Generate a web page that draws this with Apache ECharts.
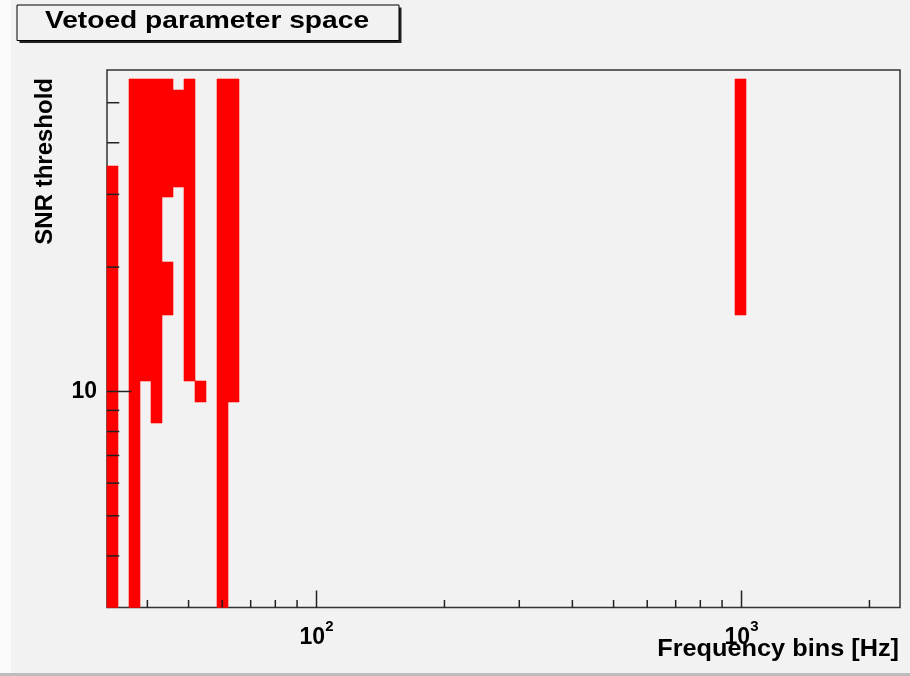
<!DOCTYPE html>
<html>
<head>
<meta charset="utf-8">
<script src="https://cdn.jsdelivr.net/npm/echarts@6/dist/echarts.min.js"></script>
<style>
html,body{margin:0;padding:0;background:#f2f2f2;}
#c{width:910px;height:676px;}
</style>
</head>
<body>
<div id="c"></div>
<script>
// Vetoed cells: frequency bin edges [Hz] and SNR threshold range
const freqLow  = [32.14, 36.22, 38.45, 40.80, 43.32, 43.32, 45.97, 48.80, 51.81, 58.37, 61.96, 963.2];
const freqHigh = [34.12, 38.45, 40.80, 43.32, 45.97, 45.97, 48.80, 51.81, 54.99, 61.96, 65.76, 1022.4];
const snrLow   = [3, 3, 10.6, 8.37, 29.6, 15.3, 31.2, 10.6, 9.43, 3, 9.43, 15.3];
const snrHigh  = [35.2, 57.2, 57.2, 57.2, 57.2, 20.6, 53.8, 57.2, 10.6, 57.2, 57.2, 57.2];

// Axis ranges and tick values
const xRange = [32.14, 2360];
const yRange = [3, 60];
const xMajorTicks = [100, 1000];
const xMinorTicks = [40, 50, 60, 70, 80, 90, 200, 300, 400, 500, 600, 700, 800, 900, 2000];
const yMajorTicks = [10];
const yMinorTicks = [4, 5, 6, 7, 8, 9, 20, 30, 40, 50];

const titleText = 'Vetoed parameter space';
const xTitle = 'Frequency bins [Hz]';
const yTitle = 'SNR threshold';

const chart = echarts.init(document.getElementById('c'), null, {renderer: 'canvas'});

const cells = freqLow.map((f, i) => [f, freqHigh[i], snrLow[i], snrHigh[i]]);
const xTickData = xMajorTicks.map(v => [v, 10, 1]).concat(xMinorTicks.map(v => [v, 10, 0]));
const yTickData = yMajorTicks.map(v => [100, v, 1]).concat(yMinorTicks.map(v => [100, v, 0]));

const FONT = '"Liberation Sans", Arial, Helvetica, sans-serif';

function isPow10(v) {
  const l = Math.log10(v);
  return Math.abs(l - Math.round(l)) < 1e-6;
}

const option = {
  animation: false,
  backgroundColor: '#f2f2f2',
  grid: {
    left: 107, top: 70, right: 10, bottom: 68.5,
    show: true, borderColor: '#333', borderWidth: 1.5,
    backgroundColor: 'transparent',
    containLabel: false, outerBoundsMode: 'none'
  },
  xAxis: {
    type: 'log', logBase: 10, min: xRange[0], max: xRange[1],
    axisLine: {show: false}, axisTick: {show: false},
    splitLine: {show: false}, minorTick: {show: false}, minorSplitLine: {show: false},
    axisLabel: {
      showMinLabel: false, showMaxLabel: false, margin: 12,
      hideOverlap: false,
      formatter: v => isPow10(v) ? '{b|10}{s|' + Math.round(Math.log10(v)) + '}' : '',
      rich: {
        b: {fontSize: 23, fontWeight: 'bold', fontFamily: FONT, color: '#000', lineHeight: 30, verticalAlign: 'bottom'},
        s: {fontSize: 15, fontWeight: 'bold', fontFamily: FONT, color: '#000', lineHeight: 11, verticalAlign: 'top'}
      }
    }
  },
  yAxis: {
    type: 'log', logBase: 10, min: yRange[0], max: yRange[1],
    axisLine: {show: false}, axisTick: {show: false},
    splitLine: {show: false}, minorTick: {show: false}, minorSplitLine: {show: false},
    axisLabel: {
      showMinLabel: false, showMaxLabel: false, margin: 10,
      fontSize: 23, fontWeight: 'bold', fontFamily: FONT, color: '#000',
      formatter: v => isPow10(v) ? String(Math.round(v)) : ''
    }
  },
  graphic: [
    {type: 'rect', silent: true, z: -10, shape: {x: 0, y: 0, width: 11, height: 676}, style: {fill: '#fafafa'}},
    {type: 'rect', silent: true, z: -10, shape: {x: 0, y: 673, width: 910, height: 3}, style: {fill: '#bdbdbd'}},
    {type: 'rect', silent: true, z: 10, shape: {x: 19.5, y: 7.5, width: 382, height: 35.5}, style: {fill: '#222'}},
    {type: 'rect', silent: true, z: 11, shape: {x: 17, y: 5, width: 382, height: 35.5}, style: {fill: '#f2f2f2', stroke: '#000', lineWidth: 1}},
    {type: 'text', silent: true, z: 12, x: 207, y: 21.5, scaleX: 1.15,
      style: {text: titleText, font: 'bold 24.5px ' + FONT, fill: '#000', textAlign: 'center', textVerticalAlign: 'middle'}},
    {type: 'text', silent: true, z: 12, x: 899, y: 650, scaleX: 1.1,
      style: {text: xTitle, font: 'bold 23px ' + FONT, fill: '#000', textAlign: 'right', textVerticalAlign: 'middle'}},
    {type: 'text', silent: true, z: 12, x: 45, y: 78, rotation: Math.PI / 2,
      style: {text: yTitle, font: 'bold 24px ' + FONT, fill: '#000', textAlign: 'right', textVerticalAlign: 'middle'}}
  ],
  series: [
    {
      type: 'custom', name: 'vetoed', data: cells, z: 2,
      encode: {x: [0, 1], y: [2, 3]},
      renderItem: (params, api) => {
        const p1 = api.coord([api.value(0), api.value(3)]);
        const p2 = api.coord([api.value(1), api.value(2)]);
        const cs = params.coordSys;
        const x1 = Math.round(p1[0]), x2 = Math.round(p2[0]);
        const y1 = Math.round(p1[1]), y2 = Math.round(p2[1]);
        const rect = echarts.graphic.clipRectByRect(
          {x: x1, y: y1, width: x2 - x1, height: y2 - y1},
          {x: cs.x, y: cs.y, width: cs.width, height: cs.height});
        return rect ? {type: 'rect', shape: rect, style: {fill: '#ff0000', stroke: '#ff0000', lineWidth: 0.6}} : null;
      }
    },
    {
      type: 'custom', name: 'xticks', data: xTickData, z: 3,
      encode: {x: 0, y: 1},
      renderItem: (params, api) => {
        const x = api.coord([api.value(0), api.value(1)])[0];
        const cs = params.coordSys;
        const yb = cs.y + cs.height;
        const len = api.value(2) === 1 ? 17 : 7.5;
        return {type: 'line', shape: {x1: x, y1: yb, x2: x, y2: yb - len}, style: {stroke: '#222', lineWidth: 1.5}};
      }
    },
    {
      type: 'custom', name: 'yticks', data: yTickData, z: 3,
      encode: {x: 0, y: 1},
      renderItem: (params, api) => {
        const y = api.coord([api.value(0), api.value(1)])[1];
        const cs = params.coordSys;
        const xl = cs.x;
        const len = api.value(2) === 1 ? 24.5 : 12.3;
        return {type: 'line', shape: {x1: xl, y1: y, x2: xl + len, y2: y}, style: {stroke: '#222', lineWidth: 1.5}};
      }
    }
  ]
};
chart.setOption(option);
</script>
</body>
</html>
